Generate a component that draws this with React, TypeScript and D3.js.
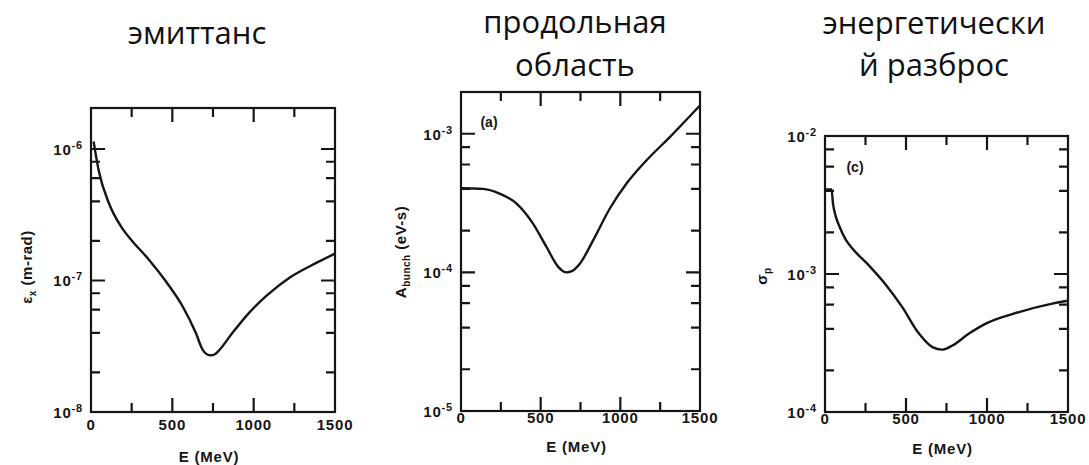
import * as d3 from "d3";
import React, { useEffect, useRef } from "react";

// emittance vs energy
const energyEmit = [16, 47, 109, 191, 253, 356, 459, 562, 644, 685, 712, 737, 762, 788, 870, 973, 1076, 1220, 1385, 1500];
const emittance = [1.14e-6, 6.9e-7, 3.9e-7, 2.5e-7, 2.0e-7, 1.44e-7, 9.9e-8, 6.4e-8, 4.0e-8, 3.0e-8, 2.75e-8, 2.7e-8, 2.75e-8, 2.95e-8, 4.0e-8, 5.7e-8, 7.6e-8, 1.05e-7, 1.36e-7, 1.6e-7];

// longitudinal bunch area vs energy
const energyArea = [0, 137, 242, 347, 452, 536, 609, 640, 663, 695, 747, 830, 935, 1040, 1166, 1312, 1500];
const bunchArea = [4.04e-4, 4.0e-4, 3.7e-4, 3.15e-4, 2.25e-4, 1.53e-4, 1.1e-4, 1.02e-4, 1.0e-4, 1.02e-4, 1.16e-4, 1.71e-4, 2.9e-4, 4.39e-4, 6.46e-4, 9.5e-4, 1.6e-3];

// energy spread vs energy
const energySpread = [0, 40, 50, 65, 90, 127, 169, 272, 374, 477, 580, 663, 724, 786, 889, 992, 1198, 1403, 1500];
const energySpreadValues = [4.1e-3, 4.1e-3, 3.2e-3, 2.65e-3, 2.2e-3, 1.78e-3, 1.53e-3, 1.15e-3, 8.4e-4, 5.75e-4, 3.7e-4, 2.95e-4, 2.83e-4, 3.03e-4, 3.7e-4, 4.37e-4, 5.3e-4, 6.1e-4, 6.4e-4];

const xTickLabels = [0, 500, 1000, 1500];
const xMajorTicks = [500, 1000];
const xMinorTicks = [250, 750, 1250];
const minorSteps = [2, 4, 6, 8];

type Panel = {
  title: string[];
  titleX: number;
  titleY: number[];
  left: number;
  right: number;
  top: number;
  bottom: number;
  yDomain: [number, number];
  decades: number[];
  energy: number[];
  values: number[];
  yLabel: { main: string; sub: string; rest: string; x: number; y: number };
  tag?: { text: string; x: number; y: number };
  tickLabelY: number;
  xLabelY: number;
};

const panels: Panel[] = [
  {
    title: ["эмиттанс"],
    titleX: 197,
    titleY: [44],
    left: 91,
    right: 335,
    top: 108,
    bottom: 412,
    yDomain: [1e-8, 2.05e-6],
    decades: [-8, -7, -6],
    energy: energyEmit,
    values: emittance,
    yLabel: { main: "ε", sub: "x", rest: " (m-rad)", x: 32, y: 267 },
    tickLabelY: 430,
    xLabelY: 462,
  },
  {
    title: ["продольная", "область"],
    titleX: 575,
    titleY: [33, 76],
    left: 461,
    right: 700,
    top: 92,
    bottom: 411,
    yDomain: [1e-5, 2e-3],
    decades: [-5, -4, -3],
    energy: energyArea,
    values: bunchArea,
    yLabel: { main: "A", sub: "bunch", rest: " (eV-s)", x: 406, y: 252 },
    tag: { text: "(a)", x: 489, y: 127 },
    tickLabelY: 423,
    xLabelY: 452,
  },
  {
    title: ["энергетически", "й разброс"],
    titleX: 934,
    titleY: [34, 76],
    left: 825,
    right: 1068,
    top: 136,
    bottom: 412,
    yDomain: [1e-4, 1e-2],
    decades: [-4, -3, -2],
    energy: energySpread,
    values: energySpreadValues,
    yLabel: { main: "σ", sub: "p", rest: "", x: 767, y: 276 },
    tag: { text: "(c)", x: 855, y: 172 },
    tickLabelY: 424,
    xLabelY: 454,
  },
];

const INK = "#151515";
const LABEL_FONT = "'Liberation Sans', Arial, sans-serif";
const MAJOR_LEN = 14;
const MINOR_LEN = 9;

export default function App() {
  const svgRef = useRef<SVGSVGElement | null>(null);

  useEffect(() => {
    if (!svgRef.current) return;
    const svg = d3.select(svgRef.current);
    svg.selectAll("*").remove();

    panels.forEach((p) => {
      const x = d3.scaleLinear().domain([0, 1500]).range([p.left, p.right]);
      const y = d3.scaleLog().domain(p.yDomain).range([p.bottom, p.top]);
      const g = svg.append("g");

      // titles
      p.title.forEach((t, i) => {
        g.append("text")
          .attr("x", p.titleX)
          .attr("y", p.titleY[i])
          .attr("text-anchor", "middle")
          .style("font-family", "'Open Sans', 'Noto Sans', sans-serif")
          .style("font-size", "31px")
          .attr("fill", "#111")
          .text(t);
      });

      // tick values
      const yMinor: number[] = [];
      p.decades.forEach((dec) => {
        minorSteps.forEach((m) => {
          const v = m * Math.pow(10, dec);
          if (v > p.yDomain[0] && v < p.yDomain[1] && y(v) - p.top > 3) yMinor.push(v);
        });
      });
      const yMajor = p.decades.map((d) => Math.pow(10, d)).filter((v) => v > p.yDomain[0] && v < p.yDomain[1]);

      // inward ticks on all four sides, as one path
      const path = d3.path();
      const xTicks = [
        ...xMajorTicks.map((v) => ({ v, len: MAJOR_LEN })),
        ...xMinorTicks.map((v) => ({ v, len: MINOR_LEN })),
      ];
      xTicks.forEach(({ v, len }) => {
        path.moveTo(x(v), p.bottom);
        path.lineTo(x(v), p.bottom - len);
        path.moveTo(x(v), p.top);
        path.lineTo(x(v), p.top + len);
      });
      const yTicks = [
        ...yMajor.map((v) => ({ v, len: MAJOR_LEN })),
        ...yMinor.map((v) => ({ v, len: MINOR_LEN })),
      ];
      yTicks.forEach(({ v, len }) => {
        path.moveTo(p.left, y(v));
        path.lineTo(p.left + len, y(v));
        path.moveTo(p.right, y(v));
        path.lineTo(p.right - len, y(v));
      });
      g.append("path")
        .attr("d", path.toString())
        .attr("fill", "none")
        .attr("stroke", INK)
        .attr("stroke-width", 2.2);

      // frame
      g.append("rect")
        .attr("x", p.left)
        .attr("y", p.top)
        .attr("width", p.right - p.left)
        .attr("height", p.bottom - p.top)
        .attr("fill", "none")
        .attr("stroke", INK)
        .attr("stroke-width", 2.2);

      // curve
      const curve = d3
        .line<number>()
        .x((_, i) => x(p.energy[i]))
        .y((d) => y(d))
        .curve(d3.curveMonotoneX);
      g.append("path")
        .attr("d", curve(p.values))
        .attr("fill", "none")
        .attr("stroke", INK)
        .attr("stroke-width", 2.4)
        .attr("stroke-linejoin", "round");

      // x tick labels
      xTickLabels.forEach((v) => {
        g.append("text")
          .attr("x", x(v))
          .attr("y", p.tickLabelY)
          .attr("text-anchor", "middle")
          .style("font-family", LABEL_FONT)
          .style("font-size", "15px")
          .style("font-weight", "bold")
          .style("letter-spacing", "0.8px")
          .attr("fill", INK)
          .text(v);
      });

      // y tick labels 10^n
      [p.yDomain[0], ...yMajor, p.yDomain[1]]
        .filter((v) => Math.abs(Math.log10(v) - Math.round(Math.log10(v))) < 1e-6)
        .forEach((v) => {
          const t = g
            .append("text")
            .attr("x", p.left - 8)
            .attr("y", y(v) + 6)
            .attr("text-anchor", "end")
            .style("font-family", LABEL_FONT)
            .style("font-size", "15px")
            .style("font-weight", "bold")
            .style("letter-spacing", "0.8px")
            .attr("fill", INK);
          t.append("tspan").text("10");
          t.append("tspan").attr("dy", -6).style("font-size", "11px").text(`-${-Math.round(Math.log10(v))}`);
        });

      // x axis title
      g.append("text")
        .attr("x", (p.left + p.right) / 2 - 4)
        .attr("y", p.xLabelY)
        .attr("text-anchor", "middle")
        .style("font-family", LABEL_FONT)
        .style("font-size", "15px")
        .style("font-weight", "bold")
        .style("letter-spacing", "0.8px")
        .attr("fill", INK)
        .text("E (MeV)");

      // y axis title (rotated)
      const yl = g
        .append("text")
        .attr("transform", `translate(${p.yLabel.x},${p.yLabel.y}) rotate(-90)`)
        .attr("text-anchor", "middle")
        .style("font-family", LABEL_FONT)
        .style("font-size", "15px")
        .style("font-weight", "bold")
        .style("letter-spacing", "0.5px")
        .attr("fill", INK);
      yl.append("tspan").text(p.yLabel.main);
      yl.append("tspan").attr("dy", 4).style("font-size", "10px").text(p.yLabel.sub);
      if (p.yLabel.rest) yl.append("tspan").attr("dy", -4).text(p.yLabel.rest);

      if (p.tag) {
        g.append("text")
          .attr("x", p.tag.x)
          .attr("y", p.tag.y)
          .attr("text-anchor", "middle")
          .style("font-family", LABEL_FONT)
          .style("font-size", "14px")
          .style("font-weight", "bold")
          .attr("fill", INK)
          .text(p.tag.text);
      }
    });
  }, []);

  return (
    <svg
      ref={svgRef}
      width={1089}
      height={465}
      style={{ position: "absolute", left: 0, top: 0, background: "#fff" }}
    />
  );
}
